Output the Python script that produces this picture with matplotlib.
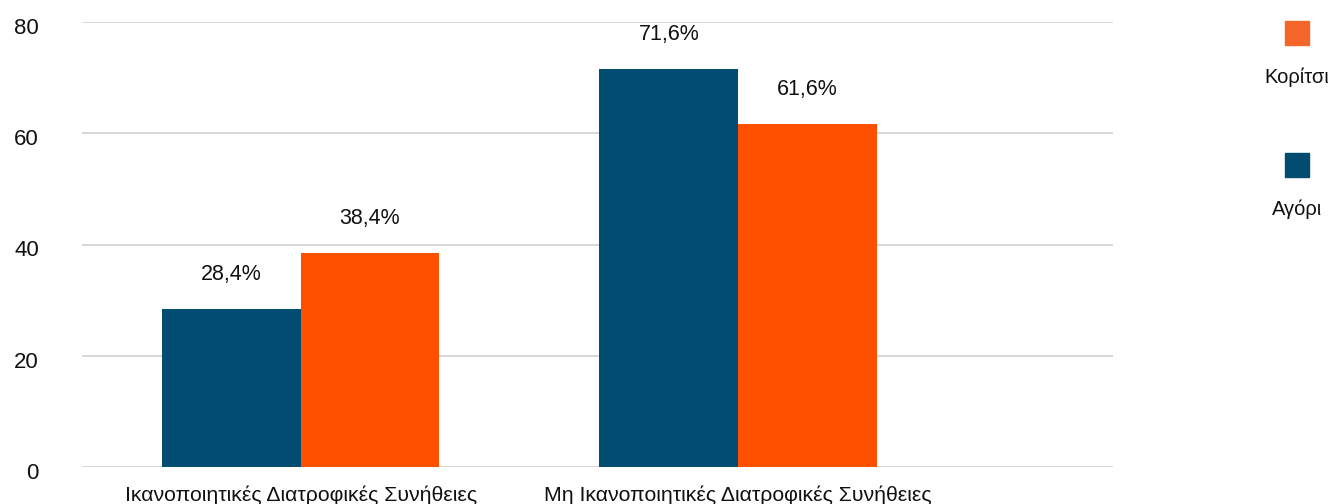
import matplotlib
matplotlib.use("Agg")
import matplotlib.pyplot as plt
from matplotlib.patches import Rectangle
from matplotlib.transforms import ScaledTranslation
import numpy as np

categories = ["Ικανοποιητικές Διατροφικές Συνήθειες", "Μη Ικανοποιητικές Διατροφικές Συνήθειες"]
boys = [28.4, 71.6]
girls = [38.4, 61.6]
series_names = ["Κορίτσι", "Αγόρι"]
yticks = [0, 20, 40, 60, 80]

BLUE = "#024C72"
ORANGE = "#FF5000"
LEGEND_ORANGE = "#F4662A"

plt.rcParams["font.family"] = ["Liberation Sans", "DejaVu Sans"]

W, H = 1331, 504
fig = plt.figure(figsize=(W / 100, H / 100), dpi=100)
ax = fig.add_axes([82 / W, 1 - 467 / H, (1113 - 82) / W, (467 - 22) / H])

x = np.arange(len(categories))
bw = 0.317
b1 = ax.bar(x - bw / 2, boys, bw, color=BLUE, zorder=3)
b2 = ax.bar(x + bw / 2, girls, bw, color=ORANGE, zorder=3)

for bars, vals in ((b1, boys), (b2, girls)):
    for rect, v in zip(bars, vals):
        ax.annotate(f"{v:.1f}%".replace(".", ","),
                    (rect.get_x() + rect.get_width() / 2, v),
                    xytext=(0, 25), textcoords="offset points",
                    ha="center", va="center", fontsize=15.5, color="#111111")

ax.set_ylim(0, 80)
ax.set_xlim(-0.5, 1.857)
ax.set_yticks(yticks)
ax.set_yticklabels([str(t) for t in yticks], fontsize=16, color="#111111")
ax.yaxis.grid(True, color="#d4d4d4", linewidth=1.3, zorder=0)
ax.tick_params(axis="y", length=0, pad=31)
ax.tick_params(axis="x", length=0, pad=13)
ax.set_xticks(x)
ax.set_xticklabels(categories, fontsize=15.3, color="#111111")
for s in ax.spines.values():
    s.set_visible(False)

# y labels sit slightly below their gridlines
shift = ScaledTranslation(0, -4 / 100, fig.dpi_scale_trans)
for lbl in ax.get_yticklabels():
    lbl.set_transform(lbl.get_transform() + shift)

# legend: colored squares stacked above their labels
legend_colors = [LEGEND_ORANGE, BLUE]
sq = 24
cx = 1297
for i, (name, col) in enumerate(zip(series_names, legend_colors)):
    top = 21 + i * 132
    fig.add_artist(Rectangle(((cx - sq / 2) / W, 1 - (top + sq) / H), sq / W, sq / H,
                             transform=fig.transFigure, color=col))
    fig.text(cx / W, 1 - (top + 56) / H, name, ha="center", va="center",
             fontsize=14.5, color="#111111")

fig.savefig("out.png", dpi=100)
